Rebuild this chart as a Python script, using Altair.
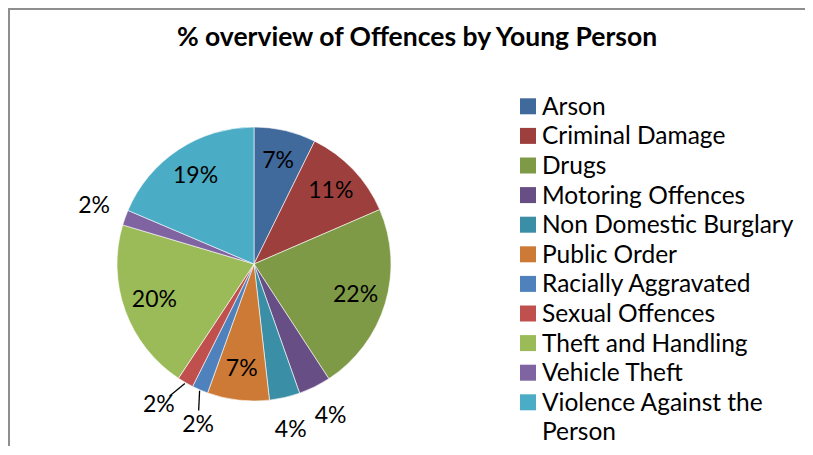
import math
import altair as alt
import pandas as pd

# ---- data ----
categories = ["Arson", "Criminal Damage", "Drugs", "Motoring Offences",
              "Non Domestic Burglary", "Public Order", "Racially Aggravated",
              "Sexual Offences", "Theft and Handling", "Vehicle Theft",
              "Violence Against the Person"]
shares = [7.3, 11.2, 22.3, 3.8, 3.6, 7.3, 1.9, 1.9, 20.3, 1.8, 18.6]
labels = ["7%", "11%", "22%", "4%", "4%", "7%", "2%", "2%", "20%", "2%", "19%"]
legend_text = ["Arson", "Criminal Damage", "Drugs", "Motoring Offences",
               "Non Domestic Burglary", "Public Order", "Racially Aggravated",
               "Sexual Offences", "Theft and Handling", "Vehicle Theft",
               "Violence Against the\nPerson"]
colors = ["#40699C", "#9D403D", "#7E9A47", "#674F86", "#3A8EA5", "#CC7A36",
          "#4F81BD", "#C0504D", "#9BBB59", "#8064A2", "#4BACC6"]
title_text = "% overview of Offences by Young Person"

# ---- layout (pixels) ----
W, H = 797, 438
CX, CY, R = 246, 256, 137
R_IN, R_OUT = 106, 170
FONT = "Lato"
LAB_SIZE = 23
LEG_SIZE = 24.5

n = len(categories)
total = sum(shares)
cum = 0.0
mid = []
for s in shares:
    mid.append(2 * math.pi * (cum + s / 2) / total)
    cum += s


def pos(a, r):
    return CX + r * math.sin(a), CY - r * math.cos(a)


outside = [i for i in range(n) if shares[i] / total < 0.05]
ang = list(mid)
bw, bh = 38, 25
step = math.radians(0.5)
for _ in range(400):
    moved = False
    for a, b in zip(outside, outside[1:]):
        xa, ya = pos(ang[a], R_OUT)
        xb, yb = pos(ang[b], R_OUT)
        if abs(xa - xb) < bw and abs(ya - yb) < bh:
            ang[a] -= step
            ang[b] += step
            moved = True
    if not moved:
        break

lx, ly = [], []
for i in range(n):
    r = R_OUT if i in outside else R_IN
    x, y = pos(ang[i], r)
    lx.append(x)
    ly.append(y)

lead = []
for i in outside:
    if abs(ang[i] - mid[i]) > math.radians(1.5):
        sx, sy = pos(mid[i], R + 1)
        vx, vy = lx[i] - sx, ly[i] - sy
        d = math.hypot(vx, vy)
        ex, ey = lx[i] - 14 * vx / d, ly[i] - 14 * vy / d
        lead.append({"x": sx, "y": sy, "x2": ex, "y2": ey})

df = pd.DataFrame({
    "name": categories,
    "value": shares,
    "label": labels,
    "idx": list(range(n)),
    "lx": lx,
    "ly": ly,
    "legtext": legend_text,
    "legy": [98.3 + 29.6 * i for i in range(n)],
})
lead_df = pd.DataFrame(lead if lead else [{"x": 0, "y": 0, "x2": 0, "y2": 0}])

color = alt.Color("name:N", scale=alt.Scale(domain=categories, range=colors),
                  sort=categories, legend=None)

one = pd.DataFrame({"a": [0]})

frame_top = alt.Chart(one).mark_rule(color="#8E8E8E", strokeWidth=2).encode(
    x=alt.value(0), x2=alt.value(W), y=alt.value(1))
frame_left = alt.Chart(one).mark_rule(color="#8E8E8E", strokeWidth=2).encode(
    x=alt.value(1), y=alt.value(0), y2=alt.value(H))

title = alt.Chart(one).mark_text(
    text=title_text, font=FONT, fontSize=26.5, fontWeight="bold",
    color="black", align="center", baseline="alphabetic").encode(
    x=alt.value(409), y=alt.value(37.5))

pie = alt.Chart(df).mark_arc(radius=R, stroke="white", strokeWidth=0.6).encode(
    theta=alt.Theta("value:Q", stack=True),
    color=color,
    order=alt.Order("idx:Q"),
    x=alt.value(CX), y=alt.value(CY),
)

pie_labels = alt.Chart(df).mark_text(
    font=FONT, fontSize=LAB_SIZE, color="black",
    align="center", baseline="middle").encode(
    x=alt.X("lx:Q", scale=None, axis=None),
    y=alt.Y("ly:Q", scale=None, axis=None),
    text="label:N",
)

leaders = alt.Chart(lead_df).mark_rule(color="black", strokeWidth=1.3).encode(
    x=alt.X("x:Q", scale=None, axis=None),
    y=alt.Y("y:Q", scale=None, axis=None),
    x2="x2:Q", y2="y2:Q",
)

leg_sq = alt.Chart(df).mark_square(size=256, opacity=1).encode(
    x=alt.value(520),
    y=alt.Y("legy:Q", scale=None, axis=None),
    color=color,
)

leg_txt = alt.Chart(df).mark_text(
    font=FONT, fontSize=LEG_SIZE, color="black", align="left",
    baseline="alphabetic", dy=8.5, lineBreak="\n", lineHeight=29.6).encode(
    x=alt.value(534),
    y=alt.Y("legy:Q", scale=None, axis=None),
    text="legtext:N",
)

chart = alt.layer(
    frame_top, frame_left, title, pie, pie_labels, leaders, leg_sq, leg_txt
).properties(
    width=W, height=H, autosize=alt.AutoSizeParams(type="none"), padding=0,
    background="white"
).configure(view=alt.ViewConfig(stroke="transparent", strokeWidth=0))

chart.save("out.html", embed_options={"renderer": "svg", "actions": False})
